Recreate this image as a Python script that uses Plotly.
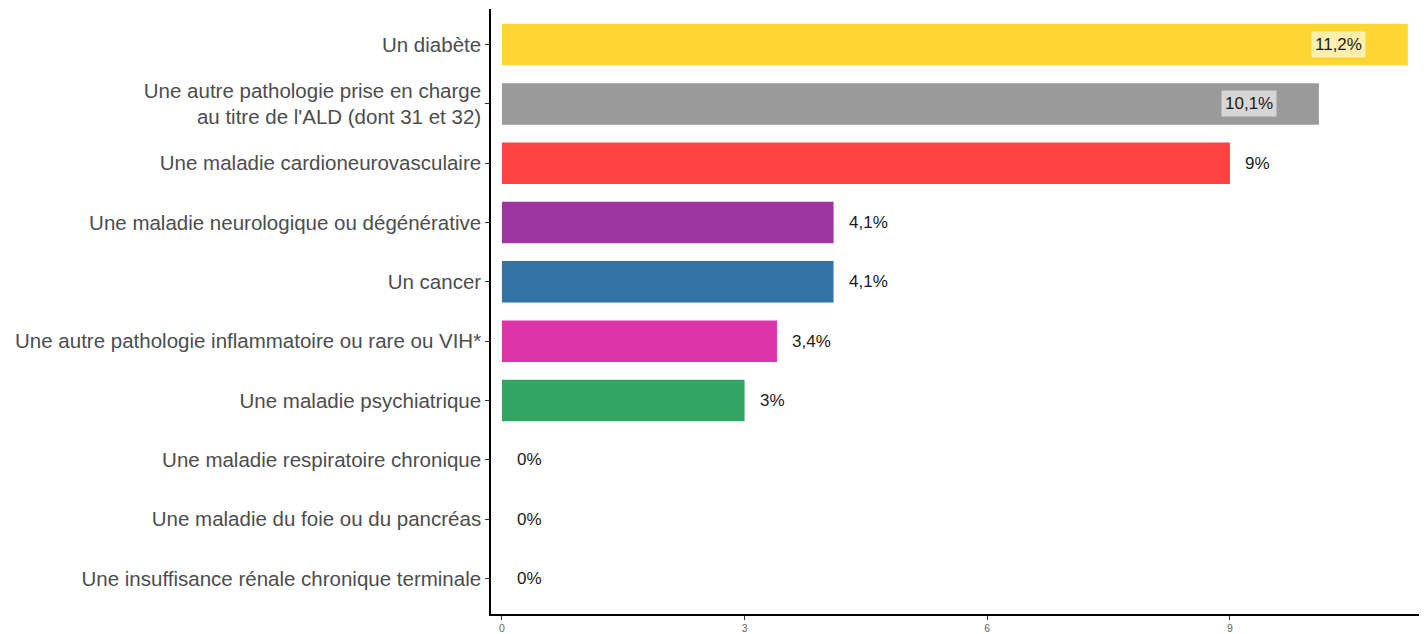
import plotly.graph_objects as go

categories = [
    "Une insuffisance rénale chronique terminale",
    "Une maladie du foie ou du pancréas",
    "Une maladie respiratoire chronique",
    "Une maladie psychiatrique",
    "Une autre pathologie inflammatoire ou rare ou VIH*",
    "Un cancer",
    "Une maladie neurologique ou dégénérative",
    "Une maladie cardioneurovasculaire",
    "Une autre pathologie prise en charge<br>au titre de l'ALD (dont 31 et 32)",
    "Un diabète",
]
values = [0, 0, 0, 3.0, 3.4, 4.1, 4.1, 9.0, 10.1, 11.2]
labels = ["0%", "0%", "0%", "3%", "3,4%", "4,1%", "4,1%", "9%", "10,1%", "11,2%"]
colors = ["#FFFFFF", "#FFFFFF", "#FFFFFF", "#33A563", "#DC34A8", "#3373A6",
          "#9D34A0", "#FF4343", "#9A9A9A", "#FED631"]
inside = [False] * 8 + [True, True]
x_ticks = [0, 3, 6, 9]

fig = go.Figure()
fig.add_trace(go.Bar(
    x=values, y=categories, orientation="h",
    marker=dict(color=colors, line=dict(width=0)),
    width=0.7, hoverinfo="skip",
))

# value labels: inside (boxed) for the two longest bars, outside otherwise
for cat, val, lab, ins in zip(categories, values, labels, inside):
    if ins:
        fig.add_annotation(
            x=val, y=cat, text=lab, showarrow=False,
            xanchor="right", xshift=-42,
            bgcolor="rgba(255,255,255,0.6)", borderpad=3,
            font=dict(size=17, color="#1a1a1a"),
        )
    else:
        fig.add_annotation(
            x=val, y=cat, text=lab, showarrow=False,
            xanchor="left", xshift=13,
            font=dict(size=17, color="#1a1a1a"),
        )

# page body has an 8px margin, so the figure is offset to line up with the window
fig.update_layout(
    width=1419, height=628,
    template="plotly_white",
    plot_bgcolor="white", paper_bgcolor="white",
    margin=dict(l=483, r=7, t=1, b=22, autoexpand=False),
    showlegend=False,
    font=dict(family="Liberation Sans, Arial, sans-serif"),
    bargap=0.3,
)
fig.update_xaxes(
    range=[-0.135, 11.35], tickvals=x_ticks, ticktext=[str(t) for t in x_ticks],
    showgrid=False, zeroline=False,
    showline=True, linecolor="black", linewidth=1.5,
    ticks="outside", ticklen=4, tickcolor="#333333",
    tickfont=dict(size=10.5, color="#666666"),
)
fig.update_yaxes(
    categoryorder="array", categoryarray=categories,
    range=[-0.6, 9.6],
    showgrid=False, zeroline=False,
    showline=True, linecolor="black", linewidth=1.5,
    ticks="outside", ticklen=4, tickcolor="#333333",
    tickfont=dict(size=20.5, color="#4d4d4d"),
)

fig.write_html("out.html")
